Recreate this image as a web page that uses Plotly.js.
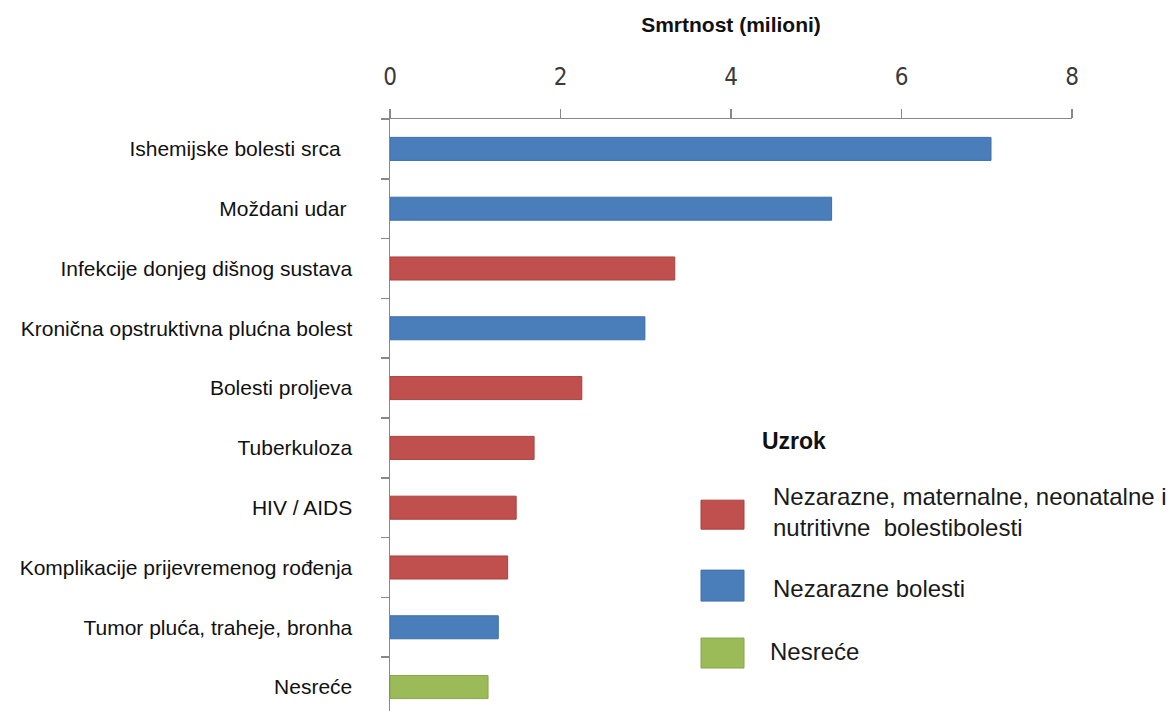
<!DOCTYPE html>
<html>
<head>
<meta charset="utf-8">
<script src="https://cdn.plot.ly/plotly-3.0.1.min.js"></script>
<style>html,body{margin:0;padding:0;background:#fff;}#chart{width:1169px;height:711px;}</style>
</head>
<body>
<div id="chart"></div>
<script>
// Data
const causes = [
  'Ishemijske bolesti srca\u00a0\u00a0',
  'Moždani udar\u00a0',
  'Infekcije donjeg dišnog sustava',
  'Kronična opstruktivna plućna bolest',
  'Bolesti proljeva',
  'Tuberkuloza',
  'HIV / AIDS',
  'Komplikacije prijevremenog rođenja',
  'Tumor pluća, traheje, bronha',
  'Nesreće'
];
const deaths = [7.05, 5.18, 3.34, 2.99, 2.25, 1.69, 1.48, 1.38, 1.27, 1.15];
const causeGroup = ['N', 'N', 'C', 'N', 'C', 'C', 'C', 'C', 'N', 'A'];
const groupKeys = ['C', 'N', 'A'];
const groupLabels = ['Nezarazne, maternalne, neonatalne i<br>nutritivne  bolestibolesti', 'Nezarazne bolesti', 'Nesreće'];
const groupColors = {C: '#C0504D', N: '#4A7EBB', A: '#9BBB59'};
const groupLines = {C: '#A9403D', N: '#3E6FA8', A: '#88A64A'};
const xTicks = [0, 2, 4, 6, 8];
const xTitle = 'Smrtnost (milioni)';
const legendTitle = 'Uzrok';

const trace = {
  type: 'bar',
  orientation: 'h',
  x: deaths,
  y: causes,
  marker: {
    color: causeGroup.map(g => groupColors[g]),
    line: {color: causeGroup.map(g => groupLines[g]), width: 1}
  },
  hoverinfo: 'x+y',
  showlegend: false
};

// Custom legend (paper coordinates derived from plot area)
const plotL = 390, plotR = 1072, plotT = 118.5, plotB = 711;
const px = v => (v - plotL) / (plotR - plotL);
const py = v => (plotB - v) / (plotB - plotT);

const legRows = [[500, 529], [570, 601], [638, 668]];
const legTextY = [512, 588, 651];
const shapes = [];
const annotations = [];
groupKeys.forEach((k, i) => {
  shapes.push({
    type: 'rect', xref: 'paper', yref: 'paper',
    x0: px(701), x1: px(744), y0: py(legRows[i][1]), y1: py(legRows[i][0]),
    fillcolor: groupColors[k], line: {color: groupLines[k], width: 1}
  });
  annotations.push({
    xref: 'paper', yref: 'paper', x: px(i === 2 ? 768 : 771), y: py(legTextY[i]),
    xanchor: 'left', yanchor: 'middle', align: 'left', showarrow: false,
    text: groupLabels[i],
    font: {family: 'Liberation Sans, Arial, sans-serif', size: 24, color: '#1a1a1a'}
  });
});
annotations.push({
  xref: 'paper', yref: 'paper', x: px(760), y: py(441),
  xanchor: 'left', yanchor: 'middle', showarrow: false,
  text: '<b>' + legendTitle + '</b>',
  font: {family: 'Liberation Sans, Arial, sans-serif', size: 23, color: '#111'}
});

const layout = {
  width: 1169, height: 711,
  margin: {l: plotL, r: 1169 - plotR, t: plotT, b: 0, pad: 0},
  paper_bgcolor: '#fff', plot_bgcolor: '#fff',
  bargap: 0.615,
  xaxis: {
    side: 'top',
    range: [0, 8],
    tickvals: xTicks,
    ticktext: xTicks.map(String),
    ticks: 'outside', ticklen: 9, tickcolor: '#888', tickwidth: 1.5,
    showline: true, linecolor: '#888', linewidth: 1.5,
    showgrid: false, zeroline: false,
    tickfont: {family: 'DejaVu Sans Condensed, DejaVu Sans, sans-serif', size: 24, color: '#3a3a3a'},
    ticklabelstandoff: 14,
    title: {text: '<b>' + xTitle + '</b>', font: {family: 'Liberation Sans, Arial, sans-serif', size: 21, color: '#111'}, standoff: 24},
    fixedrange: true
  },
  yaxis: {
    type: 'category',
    range: [9.4, -0.5],
    tickson: 'boundaries',
    ticks: 'outside', ticklen: 8, tickcolor: '#888', tickwidth: 1.5,
    showline: true, linecolor: '#888', linewidth: 1.5,
    showgrid: false, zeroline: false,
    tickfont: {family: 'Liberation Sans, Arial, sans-serif', size: 21, color: '#111'},
    ticklabelstandoff: 32,
    fixedrange: true
  },
  shapes: shapes,
  annotations: annotations
};

Plotly.newPlot('chart', [trace], layout, {displayModeBar: false, staticPlot: true});
</script>
</body>
</html>
